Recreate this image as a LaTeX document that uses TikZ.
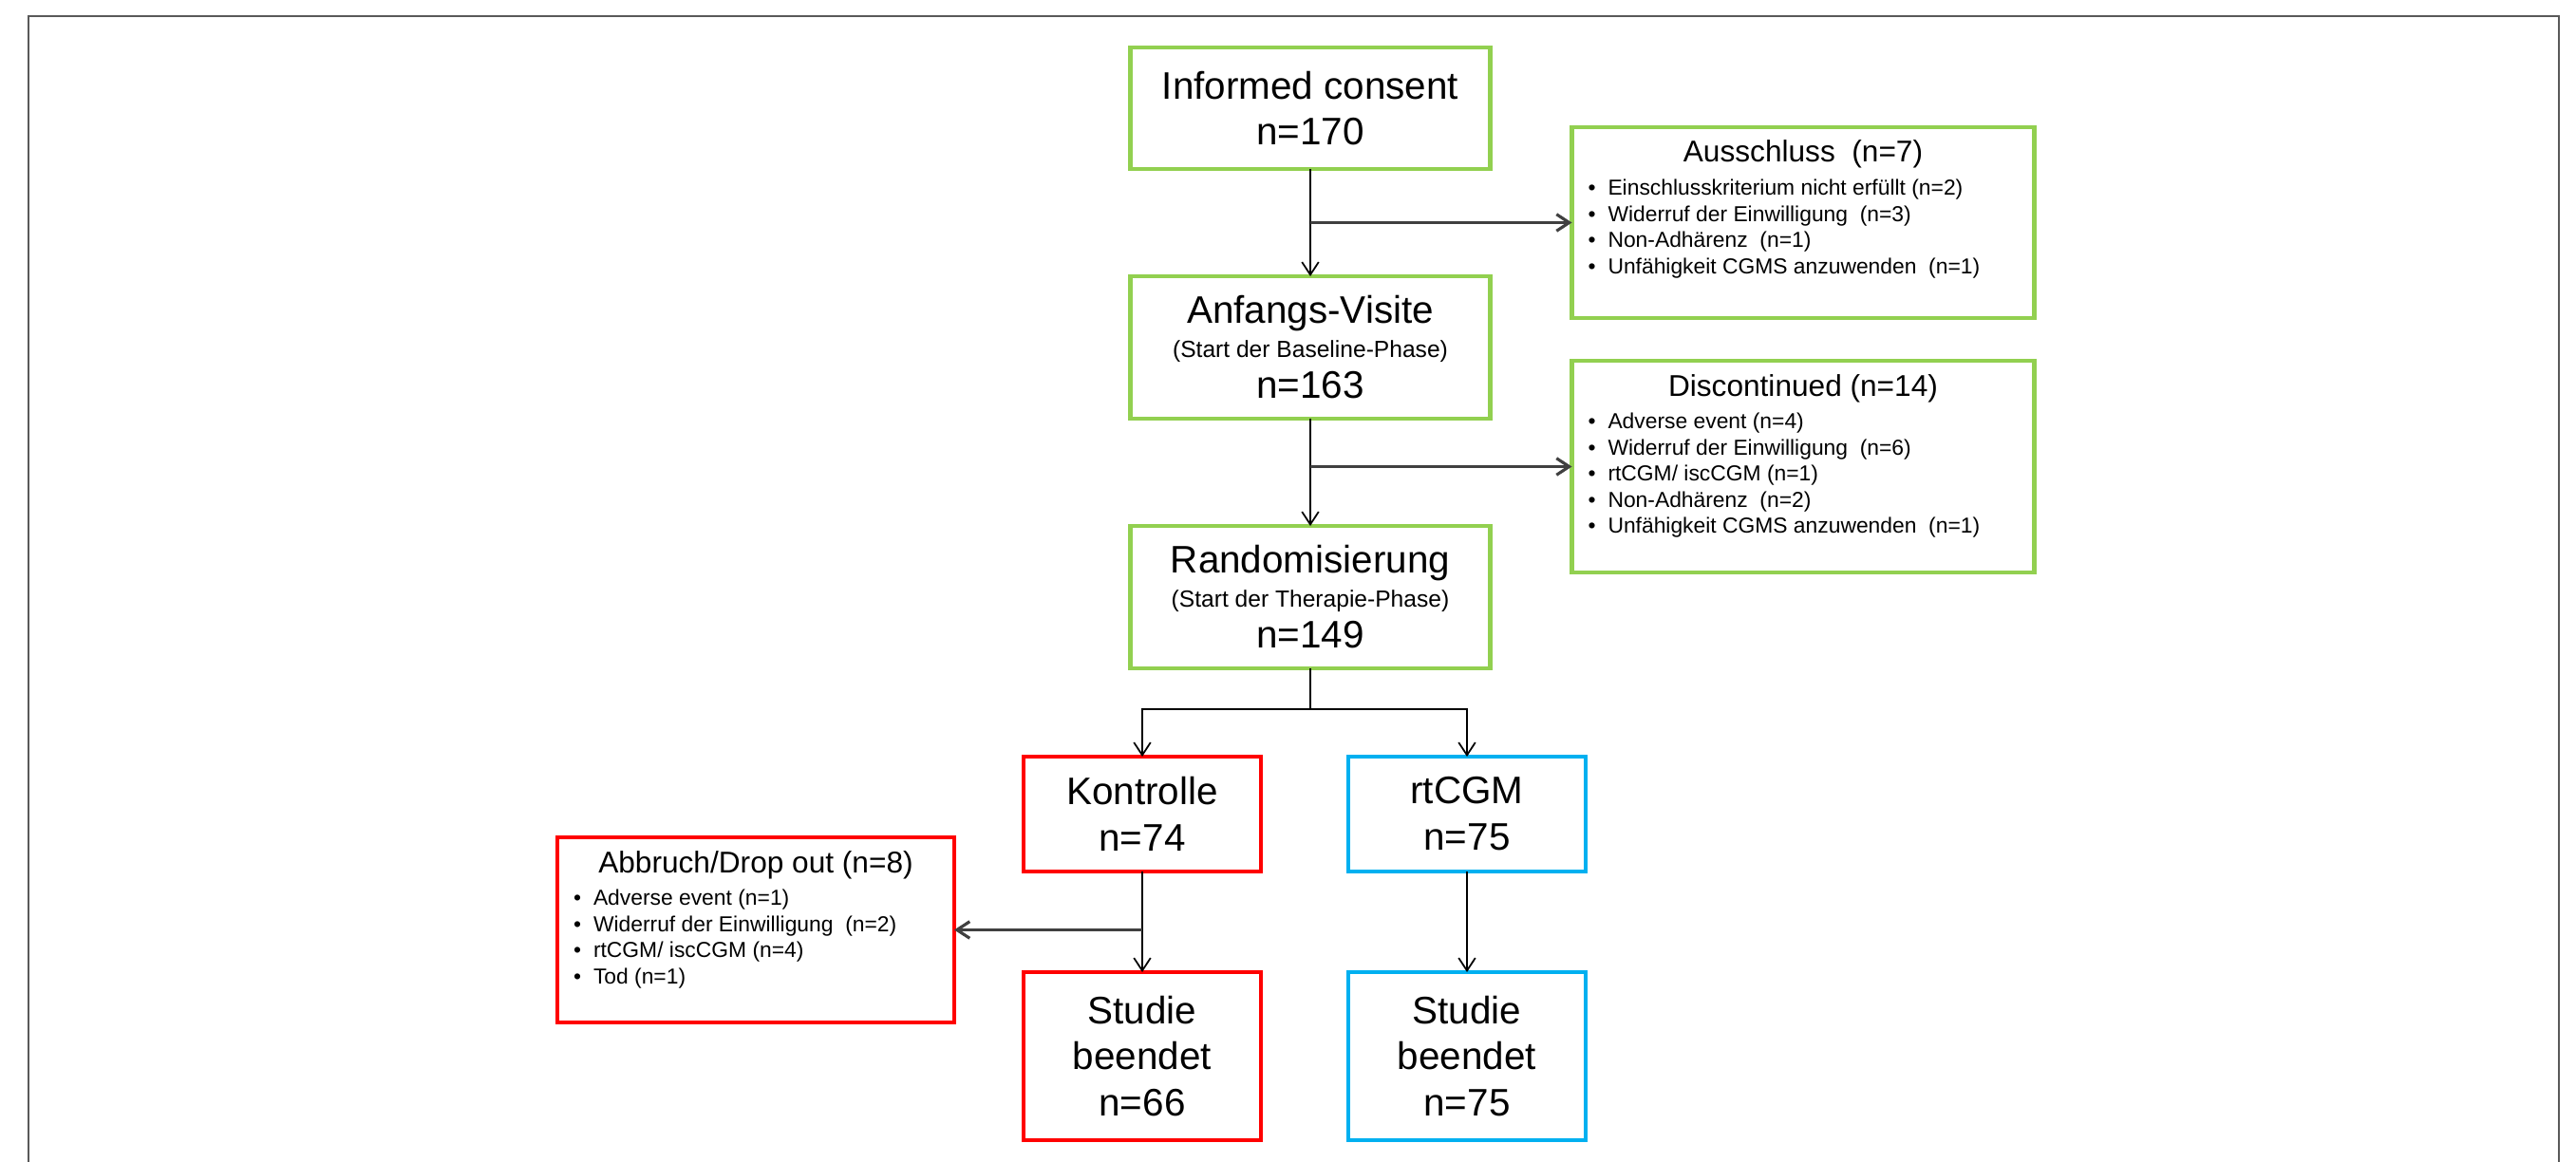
\documentclass[tikz,border=0pt]{standalone}
\usepackage{fontspec}
\setmainfont{Liberation Sans}
\usetikzlibrary{arrows.meta, positioning, calc}

\definecolor{boxgreen}{RGB}{146,208,80}
\definecolor{boxred}{RGB}{255,0,0}
\definecolor{boxblue}{RGB}{0,176,240}

\newcommand{\bigf}{\fontsize{11.5}{13.9}\selectfont}
\newcommand{\subf}{\fontsize{7}{8.4}\selectfont}
\newcommand{\titlef}{\fontsize{9}{10.8}\selectfont}
\newcommand{\itemf}{\fontsize{6.5}{7.8}\selectfont}
\newcommand{\bul}{\hspace*{0.17cm}\makebox[0.21cm][l]{\textbullet}}
% width, height, title, items
\newcommand{\droplist}[4]{\begin{minipage}[t][#2][t]{#1}\centering
  \rule{0pt}{0.37cm}{\titlef #3}\par\vspace{2.1pt}
  \raggedright\itemf #4\end{minipage}}

\tikzset{
  stage/.style={rectangle, draw=boxgreen, line width=1.2pt, fill=white,
                minimum width=3.79cm, align=center, font=\bigf,
                inner sep=2pt, outer sep=0pt},
  stageR/.style={stage, draw=boxred, minimum width=2.5cm},
  stageB/.style={stage, draw=boxblue, minimum width=2.5cm},
  listbox/.style={rectangle, draw=boxgreen, line width=1.2pt, fill=white,
                  inner sep=0pt, outer sep=0pt, anchor=north west},
  listboxR/.style={listbox, draw=boxred, anchor=north east},
  arrow/.style={-{Straight Barb[length=3.8pt,width=5pt]}, line width=0.5pt},
  sidearrow/.style={arrow, line width=0.9pt, draw=black!75},
  frameline/.style={line width=0.7pt, draw=black!65},
}

\begin{document}
\begin{tikzpicture}
  \useasboundingbox (0,0) rectangle (27.13,-12.24);
  \draw[frameline] (0.30,-12.24) |- (26.95,-0.17) -- (26.95,-12.24);

  % main column
  \node[stage, minimum height=1.28cm] (ic) at (13.80,-1.14)
       {Informed consent\\n=170};
  \node[stage, minimum height=1.50cm, below=1.13cm of ic] (anf)
       {Anfangs-Visite\\[-3.8pt]{\subf (Start der Baseline-Phase)}\\[-1.5pt]n=163};
  \node[stage, minimum height=1.50cm, below=1.13cm of anf] (rand)
       {Randomisierung\\[-3.8pt]{\subf (Start der Therapie-Phase)}\\[-1.5pt]n=149};

  % exclusions
  \node[listbox] (excl) at ($(ic.north east)+(0.86,-0.84)$)
       {\droplist{4.87cm}{2.01cm}{Ausschluss~~(n=7)}{%
        \bul Einschlusskriterium nicht erfüllt (n=2)\\
        \bul Widerruf der Einwilligung~~(n=3)\\
        \bul Non-Adhärenz~~(n=1)\\
        \bul Unfähigkeit CGMS anzuwenden~~(n=1)}};
  \node[listbox] (disc) at ($(anf.north east)+(0.86,-0.89)$)
       {\droplist{4.87cm}{2.23cm}{Discontinued (n=14)}{%
        \bul Adverse event (n=4)\\
        \bul Widerruf der Einwilligung~~(n=6)\\
        \bul rtCGM/ iscCGM (n=1)\\
        \bul Non-Adhärenz~~(n=2)\\
        \bul Unfähigkeit CGMS anzuwenden~~(n=1)}};

  % study arms
  \node[stageR, minimum height=1.21cm, below=0.93cm of rand, xshift=-1.77cm] (ctrl)
       {Kontrolle\\n=74};
  \node[stageB, minimum height=1.21cm, below=0.93cm of rand, xshift=1.65cm] (cgm)
       {rtCGM\\n=75};
  \node[stageR, minimum height=1.77cm, below=1.06cm of ctrl] (endC)
       {Studie\\beendet\\n=66};
  \node[stageB, minimum height=1.77cm, below=1.06cm of cgm] (endB)
       {Studie\\beendet\\n=75};
  \node[listboxR] (drop) at ($(ctrl.north west)+(-0.73,-0.85)$)
       {\droplist{4.18cm}{1.95cm}{Abbruch/Drop out (n=8)}{%
        \bul Adverse event (n=1)\\
        \bul Widerruf der Einwilligung~~(n=2)\\
        \bul rtCGM/ iscCGM (n=4)\\
        \bul Tod (n=1)}};

  \coordinate[below=0.43cm of rand] (split);

  \draw[arrow] (ic) -- (anf);
  \draw[sidearrow] (ic.south |- excl.west) -- (excl.west);
  \draw[arrow] (anf) -- (rand);
  \draw[sidearrow] (anf.south |- disc.west) -- (disc.west);
  \draw[arrow] (rand.south) -- (split) -| (ctrl.north);
  \draw[arrow] (split) -| (cgm.north);
  \draw[arrow] (ctrl) -- (endC);
  \draw[sidearrow] (ctrl.south |- drop.east) -- (drop.east);
  \draw[arrow] (cgm) -- (endB);

\end{tikzpicture}
\end{document}
